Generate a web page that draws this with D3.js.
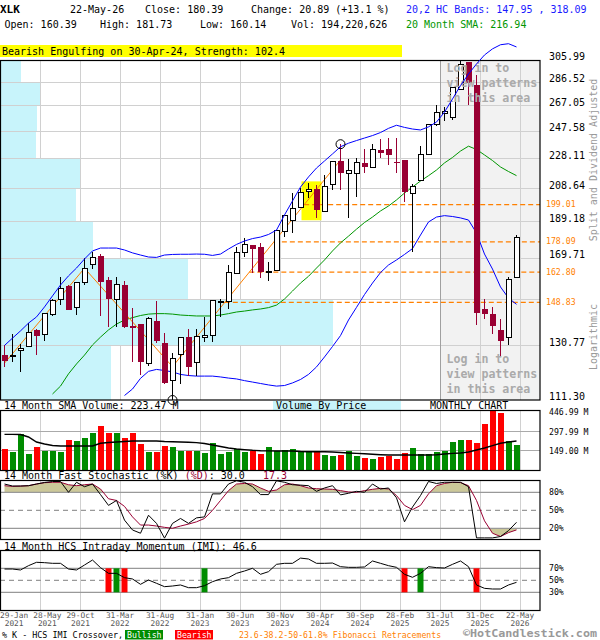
<!DOCTYPE html>
<html lang="en">
<head>
<meta charset="UTF-8">
<title>XLK Monthly Chart</title>
<style>
  body { margin: 0; background: #fff; }
  svg { display: block; font-family: "DejaVu Sans Mono", monospace; }
  .pre { white-space: pre; }
</style>
</head>
<body>
<div id="chart"></div>
<script src="https://d3js.org/d3.v7.min.js"></script>
<script>
// ---- data ----
var symbol = "XLK";
var lastDate = "22-May-26";

var months = [
  "Jan-21","Feb-21","Mar-21","Apr-21","May-21","Jun-21","Jul-21","Aug-21","Sep-21","Oct-21","Nov-21","Dec-21",
  "Jan-22","Feb-22","Mar-22","Apr-22","May-22","Jun-22","Jul-22","Aug-22","Sep-22","Oct-22","Nov-22","Dec-22",
  "Jan-23","Feb-23","Mar-23","Apr-23","May-23","Jun-23","Jul-23","Aug-23","Sep-23","Oct-23","Nov-23","Dec-23",
  "Jan-24","Feb-24","Mar-24","Apr-24","May-24","Jun-24","Jul-24","Aug-24","Sep-24","Oct-24","Nov-24","Dec-24",
  "Jan-25","Feb-25","Mar-25","Apr-25","May-25","Jun-25","Jul-25","Aug-25","Sep-25","Oct-25","Nov-25","Dec-25",
  "Jan-26","Feb-26","Mar-26","Apr-26","May-26"
];

var openP = [127.3,126.7,129.2,130.4,137.0,135.3,143.7,149.9,156.3,146.6,157.8,166.7,
  170.8,159.0,150.0,156.7,138.7,139.5,124.2,140.9,131.8,117.9,127.3,134.1,
  124.5,134.1,135.0,149.0,149.0,162.2,172.7,176.5,175.6,162.6,163.5,183.6,
  189.7,197.6,206.8,208.3,194.9,211.3,226.8,218.6,218.6,225.1,222.4,234.1,
  234.8,226.1,227.3,205.8,214.1,230.7,252.9,260.6,257.9,280.4,304.4,284.0,
  145.9,143.7,137.1,134.1,160.39];
var highP = [131.1,135.3,131.5,139.8,137.5,144.2,150.4,160.3,156.6,158.1,169.6,172.9,
  172.0,160.6,160.3,158.7,146.2,139.6,142.4,149.4,136.0,127.9,134.2,137.3,
  137.3,142.6,150.0,150.2,166.3,175.6,180.4,176.7,177.4,167.9,184.6,193.0,
  205.8,208.8,212.0,210.8,217.3,226.2,238.2,227.7,228.4,234.6,238.2,241.7,
  242.4,242.4,227.4,211.6,236.8,253.0,267.6,265.7,282.2,305.4,304.6,292.6,
  150.1,146.6,141.5,160.6,181.73];
var lowP = [122.7,124.7,121.1,130.2,127.3,132.8,142.9,147.6,145.3,143.3,156.7,164.2,
  142.9,138.4,138.2,137.7,124.7,119.9,123.2,131.8,116.8,111.3,116.7,119.5,
  119.5,132.4,132.4,142.3,145.8,162.0,170.5,162.2,159.8,158.7,163.4,180.9,
  182.7,197.0,202.8,191.1,194.8,207.9,207.9,191.1,203.8,218.5,222.3,228.4,
  223.7,218.5,200.6,172.9,214.0,230.6,251.6,255.2,256.0,279.9,267.9,139.2,
  141.5,135.4,126.6,131.1,160.14];
var closeP = [125.1,127.1,129.6,136.1,134.6,144.0,149.7,155.2,145.5,157.9,164.7,170.1,
  158.2,150.3,156.7,138.4,137.7,124.7,141.9,132.8,116.9,126.0,134.1,122.9,
  134.6,135.0,149.85,149.4,162.7,172.7,176.9,174.2,163.0,163.3,184.5,192.5,
  196.8,206.5,208.3,195.85,210.2,226.1,218.9,220.1,225.8,222.4,234.6,232.3,
  230.7,225.3,206.8,209.8,230.9,252.9,261.8,262.4,282.1,301.5,285.6,144.2,
  143.7,138.8,132.8,159.5,180.39];
// monthly volume, millions of shares
var volumeM = [162.9,142.5,274,125,178,147.7,147.7,142.5,231,223.5,246,284,
  339.5,284,284,246,284,203,142.5,142.5,188,178,150,150,
  150,135,208,127,142.5,160.6,142.5,150,127,178,150,157.6,
  162.9,147.7,147.7,147.7,117.4,110,117.4,147.7,110,94.7,87,102,
  110,87,132.6,170.5,125,125,140,147.7,216,231,231,208,
  352,447,433,226,194.220626];
var volSma14 = [274,274,273,254,216,201,189,186,186,186,186,186,
  206,212,216,220,223.5,223.5,223.5,223.5,220,218,216,214,
  211,205,193,182,170,163,158,153,150,149,148,148,
  148,144,142.5,142.5,142.5,140,136,132.6,130,126.5,122.7,119.7,
  117.4,117.4,117.4,117.4,117.4,117.4,119,125,130,132.6,140,155,
  170.5,189,206,216,223.47];
var bandUpper = [130.9,133.8,136.7,139.9,142.5,146.8,151.7,156.7,161.0,164.8,169.3,173.4,
  174.9,174.9,174.9,173.9,172.4,171.3,170.3,170.1,171.3,171.6,171.7,171.7,
  171.8,171.7,171.1,171.8,174.4,176.8,178.6,179.9,180.7,182.1,184.5,193.0,
  201.2,209.7,216.1,221.9,226.6,231.4,236.4,238.9,240.8,242.6,244.4,246.6,
  249.7,252.0,250.4,249.2,248.5,250.8,254.4,262.1,272.5,283.6,293.5,302.4,
  310.6,316.3,320.2,321.2,318.09];
var sma20 = [null,null,null,null,null,null,113.3,116.0,120.3,123.9,127.2,131.1,
  134.2,137.1,139.5,141.2,142.2,143.1,143.7,143.9,143.9,143.7,143.3,143.1,
  142.9,142.9,142.9,143.3,143.9,144.6,145.0,145.5,145.9,146.5,147.6,150.3,
  153.9,157.6,160.8,164.8,168.8,173.4,177.6,181.2,185.0,188.7,191.8,195.3,
  198.2,201.8,206.0,209.7,213.5,216.9,220.6,225.3,229.0,233.4,236.8,234.5,
  230.7,226.9,222.6,219.6,216.94];
var bandLower = [null,null,null,null,null,null,null,null,null,null,null,null,
  null,null,null,112.8,115.0,118.7,121.2,121.9,121.5,121.0,120.1,119.7,
  119.5,119.5,119.5,119.2,118.8,118.5,117.9,117.4,116.9,116.4,116.0,116.2,
  117.1,118.3,120.1,122.8,126.5,130.5,134.8,141.2,146.6,152.3,157.6,162.6,
  166.3,168.8,171.6,174.6,181.8,189.0,191.8,192.6,192.1,191.3,190.1,182.9,
  171.8,164.3,155.8,150.7,147.95];
var stochK = [93.8,90.5,90.5,91,93.8,96.4,98,98,80,96.7,89.3,93.8,
  76.2,58.2,66.4,33.6,17.2,11.8,41.8,28.2,3.6,28.2,36.4,28.2,
  37.4,39,77.4,77.4,93.8,99.2,96.7,89.3,76.2,76.2,99.2,96.7,
  92.6,92,91,81.6,87.2,91,75.7,78.4,81.6,80,93.8,85.5,
  87.2,70.8,30.8,55.4,74.6,98,94.7,96.7,96.7,96.7,89.3,4,
  4,4,6.3,16.1,30.0];
var stochD = [91,89.8,90.3,91,93.8,96,96.7,96.7,92.6,91,92.6,93.8,
  85.5,69.2,66.4,56.5,39,25.4,25.4,23.8,21.6,20,23.8,27,
  30.8,36.4,50,66.4,82.8,93.8,94.7,93.8,87.2,81.6,83.9,92.6,
  93.8,91,87.2,86,85.5,85,82.8,80.6,80,82.8,85,86.6,
  85.5,74.6,58.2,51.1,58.2,77.4,91,94.7,96.7,96.2,91,66.4,
  32.5,11.8,6.3,12.8,17.3];
var imi = [68.8,68.8,67.2,74.4,80,79.4,78.3,78.3,68.8,67.2,75.5,83.8,
  71.1,61.6,61.6,54.4,52.2,43.3,50.5,45,39.4,40.5,42.2,37.7,
  37.7,41,47.7,52.2,54.4,61.6,65.5,70,60,64.4,76.6,78.3,
  78.3,87,85.5,78.3,78.3,78.8,72.7,71.6,71.6,72.2,82.2,78.3,
  74.4,71.6,60,55,61.6,72.7,71.1,70.5,76.6,82.2,72.7,42.2,
  36.6,35.5,35.5,42.2,46.6];

var priceTicks = [111.30,130.77,150.24,169.71,189.18,208.64,228.11,247.58,267.05,286.52,305.99];
var vbpVolume = [110,332,187,92,75,79,35,36,39,20];   // volume by price, bins between ticks (bottom up)
var volTicks = [149.00,297.99,446.99];
var stochLevels = [80,50,20];
var imiLevels = [70,50,30];

var fibLevels = [199.01,178.09,162.80,148.83];
var zigzagMonths = ["Jan-21","Nov-21","Oct-22","Jul-24"];
var zigzagPrices = [124.2,164.7,122.9,227.3];
var pivotMonths = ["Oct-22","Jul-24"];
var pivotPrices = [111.30,238.2];

var patternName = "Bearish Engulfing";
var patternDate = "30-Apr-24";
var patternStrength = 102.4;
var patternMonths = ["Mar-24","Apr-24"];
var lockedFrom = "Jul-25";

var crossMonths = ["Feb-22","Mar-22","Apr-22","Feb-23","Mar-25","May-25","Dec-25"];
var crossTypes = ["bear","bull","bear","bull","bear","bull","bear"];

var xTickMonths = ["Jan-21","May-21","Oct-21","Mar-22","Aug-22","Jan-23","Jun-23","Nov-23","Apr-24","Sep-24","Feb-25","Jul-25","Dec-25","May-26"];
var xTickDays = ["29-Jan","28-May","29-Oct","31-Mar","31-Aug","31-Jan","30-Jun","30-Nov","30-Apr","30-Sep","28-Feb","31-Jul","31-Dec","22-May"];
var xTickYears = ["2021","2021","2021","2022","2022","2023","2023","2023","2024","2024","2025","2025","2025","2026"];

// ---- drawing ----
var RED = "#990033", UPRED = "#ff0000", GREEN = "#008c00", ORANGE = "#ff8000", CYAN = "#c8f4fb";
var rows = months.map(function (m, i) {
  return { m: m, o: openP[i], h: highP[i], l: lowP[i], c: closeP[i], v: volumeM[i], vs: volSma14[i],
    up: bandUpper[i], sma: sma20[i], lo: bandLower[i], k: stochK[i], d: stochD[i], imi: imi[i] };
});
var last = rows[rows.length - 1], prev = rows[rows.length - 2];
var f2 = d3.format(".2f"), f1 = d3.format(".1f");

var svg = d3.select("#chart").append("svg").attr("width", 600).attr("height", 640);
var defs = svg.append("defs");

function txt(g, s, px, py, size, color, weight) {
  return g.append("text").attr("x", px).attr("y", py).attr("font-size", size)
    .attr("fill", color || "#000").attr("font-weight", weight || "normal").text(s);
}

var x = d3.scalePoint().domain(months).range([4.5, 516.5]);
function gridX(m) { return x(m) + 3.5; }
var right = 540;

// header
var hdr = svg.append("g");
txt(hdr, symbol, 0, 13, 11, "#000", "bold");
txt(hdr, lastDate, 70, 13, 10);
txt(hdr, "Close: " + f2(last.c), 145, 13, 10);
var chg = last.c - prev.c;
txt(hdr, "Change: " + f2(chg) + " (+" + f1(chg / prev.c * 100) + " %)", 251, 13, 10);
txt(hdr, "20,2 HC Bands: " + f2(last.lo) + " , " + f2(last.up), 406, 13, 10, "#1a1aff");
txt(hdr, "Open: " + f2(last.o), 4.5, 28, 10);
txt(hdr, "High: " + f2(last.h), 100, 28, 10);
txt(hdr, "Low: " + f2(last.l), 200, 28, 10);
txt(hdr, "Vol: " + d3.format(",")(Math.round(last.v * 1e6)), 291, 28, 10);
txt(hdr, "20 Month SMA: " + f2(last.sma), 406, 28, 10, "#009600");

hdr.append("rect").attr("x", 0).attr("y", 45).attr("width", 402).attr("height", 12).attr("fill", "#ffff00");
txt(hdr, patternName + " on " + patternDate + ", Strength: " + patternStrength, 2, 55, 10);

// ---- main price panel ----
var y = d3.scaleLog().domain([priceTicks[0], priceTicks[priceTicks.length - 1]]).range([400, 60]);
var main = svg.append("g");
defs.append("clipPath").attr("id", "clipMain").append("rect")
  .attr("x", 0).attr("y", 0).attr("width", right).attr("height", 400);

main.append("rect").attr("x", gridX(lockedFrom)).attr("y", 60)
  .attr("width", right - gridX(lockedFrom)).attr("height", 340).attr("fill", "#f2f2f2");

main.selectAll("line.vg").data(xTickMonths.slice(1)).enter().append("line")
  .attr("x1", gridX).attr("x2", gridX).attr("y1", 60).attr("y2", 400)
  .attr("stroke", "#d0d0d0").attr("shape-rendering", "crispEdges");

var vbpW = d3.scaleLinear().domain([0, d3.max(vbpVolume)]).range([0, 332]);
main.selectAll("rect.vbp").data(vbpVolume).enter().append("rect")
  .attr("x", 1)
  .attr("y", function (d, i) { return y(priceTicks[i + 1]); })
  .attr("width", function (d) { return vbpW(d); })
  .attr("height", function (d, i) { return y(priceTicks[i]) - y(priceTicks[i + 1]); })
  .attr("fill", CYAN).attr("shape-rendering", "crispEdges");

main.selectAll("line.hg").data(priceTicks.slice(1, -1)).enter().append("line")
  .attr("x1", 0).attr("x2", right).attr("y1", y).attr("y2", y)
  .attr("stroke", "#d0d0d0").attr("shape-rendering", "crispEdges");

main.append("line").attr("x1", gridX(lockedFrom)).attr("x2", gridX(lockedFrom))
  .attr("y1", 60).attr("y2", 400).attr("stroke", "#a0a0a0").attr("shape-rendering", "crispEdges");

// pattern highlight
var patRows = rows.filter(function (d) { return patternMonths.indexOf(d.m) >= 0; });
main.append("rect")
  .attr("x", x(patternMonths[0]) - 7).attr("y", y(d3.max(patRows, function (d) { return d.h; })) - 2)
  .attr("width", x(patternMonths[patternMonths.length - 1]) - x(patternMonths[0]) + 12)
  .attr("height", y(d3.min(patRows, function (d) { return d.l; })) - y(d3.max(patRows, function (d) { return d.h; })) + 4)
  .attr("fill", "#ffff00");

// zigzag + fibonacci retracements
var zz = zigzagMonths.map(function (m, k) { return [x(m), y(zigzagPrices[k])]; });
var za = zz[zz.length - 2], zb = zz[zz.length - 1];
fibLevels.forEach(function (lv) {
  var yl = y(lv);
  var xs = za[0] + (yl - za[1]) / (zb[1] - za[1]) * (zb[0] - za[0]);
  main.append("line").attr("x1", xs).attr("x2", right).attr("y1", yl).attr("y2", yl)
    .attr("stroke", ORANGE).attr("stroke-width", 1.3).attr("stroke-dasharray", "5,3");
  txt(svg, f2(lv), 546, yl + 2.5, 8.2, ORANGE);
});

var lines = main.append("g").attr("clip-path", "url(#clipMain)");
function priceLine(key) {
  return d3.line().defined(function (d) { return d[key] != null; })
    .x(function (d) { return x(d.m); }).y(function (d) { return y(d[key]); });
}
svg.append("path").datum(rows).attr("d", priceLine("up")).attr("fill", "none").attr("stroke", "#0000ff");
lines.append("path").datum(rows).attr("d", priceLine("lo")).attr("fill", "none").attr("stroke", "#0000ff");
lines.append("path").datum(rows).attr("d", priceLine("sma")).attr("fill", "none").attr("stroke", "#009600");
main.append("path").datum(zz).attr("d", d3.line()).attr("fill", "none").attr("stroke", ORANGE);

// candles
var candles = main.selectAll("g.candle").data(rows).enter().append("g");
candles.append("line")
  .attr("x1", function (d) { return x(d.m); }).attr("x2", function (d) { return x(d.m); })
  .attr("y1", function (d) { return y(d.h); }).attr("y2", function (d) { return y(d.l); })
  .attr("stroke", function (d) { return d.c >= d.o ? "#000" : RED; })
  .attr("shape-rendering", "crispEdges");
candles.append("rect")
  .attr("x", function (d) { return d.c >= d.o ? x(d.m) - 2.5 : x(d.m) - 3; })
  .attr("width", function (d) { return d.c >= d.o ? 5 : 6; })
  .attr("y", function (d) { return y(Math.max(d.o, d.c)); })
  .attr("height", function (d) { return Math.max(y(Math.min(d.o, d.c)) - y(Math.max(d.o, d.c)), 1.2); })
  .attr("fill", function (d) { return d.c >= d.o ? "#fff" : RED; })
  .attr("stroke", function (d) { return d.c >= d.o ? "#000" : "none"; })
  .attr("shape-rendering", "crispEdges");

pivotMonths.forEach(function (m, k) {
  svg.append("circle").attr("cx", x(m)).attr("cy", y(pivotPrices[k])).attr("r", 4.5)
    .attr("fill", "none").attr("stroke", "#000");
});

// locked area text
var loginLines = ["Log in to", "view patterns", "in this area"];
[71.7, 363.3].forEach(function (top) {
  loginLines.forEach(function (s, k) {
    txt(main, s, gridX(lockedFrom) + 6.5, top + k * 15, 11.6, "#aaaaaa", "bold");
  });
});

main.append("rect").attr("x", 0.5).attr("y", 60.5).attr("width", right - 0.5).attr("height", 339.5)
  .attr("fill", "none").attr("stroke", "#000").attr("stroke-width", 1.2);

// price axis labels
priceTicks.forEach(function (t) {
  var near = fibLevels.some(function (f) { return Math.abs(y(f) - y(t)) < 8; });
  if (!near) txt(svg, f2(t), 549, y(t), 10);
});
svg.append("text").attr("transform", "translate(597,160) rotate(-90)").attr("text-anchor", "middle")
  .attr("font-size", 10).attr("fill", "#999").text("Split and Dividend Adjusted");
svg.append("text").attr("transform", "translate(597,337) rotate(-90)").attr("text-anchor", "middle")
  .attr("font-size", 10).attr("fill", "#999").text("Logarithmic");

// ---- volume panel ----
var yV = d3.scaleLinear().domain([0, volTicks[volTicks.length - 1]]).range([470.5, 411.5]);
var vol = svg.append("g");
txt(vol, "14 Month SMA Volume: " + f2(last.vs) + " M", 4, 409, 10);
vol.append("rect").attr("x", 273).attr("y", 401).attr("width", 128).attr("height", 9.5).attr("fill", CYAN);
txt(vol, "Volume By Price", 276, 409, 10);
txt(vol, "MONTHLY CHART", 430, 408.5, 10);

function vGrid(g, top, bot) {
  g.selectAll("line.vg").data(xTickMonths.slice(1)).enter().append("line")
    .attr("x1", gridX).attr("x2", gridX).attr("y1", top).attr("y2", bot)
    .attr("stroke", "#d0d0d0").attr("shape-rendering", "crispEdges");
}
vGrid(vol, 410, 470.5);
vol.selectAll("line.hg").data(volTicks.slice(0, -1)).enter().append("line")
  .attr("x1", 0).attr("x2", right).attr("y1", yV).attr("y2", yV)
  .attr("stroke", "#aaa").attr("shape-rendering", "crispEdges");
vol.selectAll("rect.bar").data(rows).enter().append("rect")
  .attr("x", function (d) { return x(d.m) - 3; }).attr("width", 6)
  .attr("y", function (d) { return yV(d.v); })
  .attr("height", function (d) { return yV(0) - yV(d.v); })
  .attr("fill", function (d) { return d.c >= d.o ? GREEN : UPRED; })
  .attr("shape-rendering", "crispEdges");
vol.append("path").datum(rows)
  .attr("d", d3.line().x(function (d) { return x(d.m); }).y(function (d) { return yV(d.vs); }))
  .attr("fill", "none").attr("stroke", "#000").attr("stroke-width", 1.4);
vol.append("rect").attr("x", 0.5).attr("y", 410.5).attr("width", right - 0.5).attr("height", 60)
  .attr("fill", "none").attr("stroke", "#000").attr("stroke-width", 1.2);
volTicks.forEach(function (t) { txt(vol, f2(t) + " M", 549, yV(t) + 3.5, 8.2); });

// ---- stochastic panel ----
var yS = d3.scaleLinear().domain([0, 100]).range([540.3, 480.3]);
var st = svg.append("g");
var stLabel = st.append("text").attr("class", "pre").attr("x", 4).attr("y", 479).attr("font-size", 10);
stLabel.append("tspan").text("14 Month Fast Stochastic (%K) ");
stLabel.append("tspan").attr("fill", RED).text("(%D)");
stLabel.append("tspan").text(": " + f1(last.k) + "   ");
stLabel.append("tspan").attr("fill", RED).text(f1(last.d));
vGrid(st, 480, 540);
defs.append("clipPath").attr("id", "clipHi").append("rect").attr("x", 0).attr("y", 470).attr("width", right).attr("height", yS(80) - 470);
defs.append("clipPath").attr("id", "clipLo").append("rect").attr("x", 0).attr("y", yS(20)).attr("width", right).attr("height", 550 - yS(20));
st.append("path").datum(rows).attr("clip-path", "url(#clipHi)")
  .attr("d", d3.area().x(function (d) { return x(d.m); }).y0(yS(80)).y1(function (d) { return yS(d.d); }))
  .attr("fill", "#ccc899");
st.append("path").datum(rows).attr("clip-path", "url(#clipLo)")
  .attr("d", d3.area().x(function (d) { return x(d.m); }).y0(yS(20)).y1(function (d) { return yS(d.d); }))
  .attr("fill", "#ccc899");
stochLevels.forEach(function (lv) {
  st.append("line").attr("x1", 0).attr("x2", right).attr("y1", yS(lv)).attr("y2", yS(lv))
    .attr("stroke", "#999").attr("stroke-width", 1.3)
    .attr("stroke-dasharray", lv === 50 ? "5,4" : null);
  txt(st, lv + "%", 549, yS(lv) + 2.5, 8.2);
});
st.append("path").datum(rows)
  .attr("d", d3.line().x(function (d) { return x(d.m); }).y(function (d) { return yS(d.d); }))
  .attr("fill", "none").attr("stroke", RED);
st.append("path").datum(rows)
  .attr("d", d3.line().x(function (d) { return x(d.m); }).y(function (d) { return yS(d.k); }))
  .attr("fill", "none").attr("stroke", "#000");
st.append("rect").attr("x", 0.5).attr("y", 480.5).attr("width", right - 0.5).attr("height", 59)
  .attr("fill", "none").attr("stroke", "#000").attr("stroke-width", 1.2);

// ---- IMI panel ----
var yI = d3.scaleLinear().domain([0, 100]).range([610.3, 550.3]);
var im = svg.append("g");
txt(im, "14 Month HCS Intraday Momentum (IMI): " + f1(last.imi), 4, 549.5, 10);
vGrid(im, 550, 610);
imiLevels.forEach(function (lv) {
  im.append("line").attr("x1", 0).attr("x2", right).attr("y1", yI(lv)).attr("y2", yI(lv))
    .attr("stroke", "#999").attr("stroke-width", 1.3)
    .attr("stroke-dasharray", lv === 50 ? "5,4" : null);
  txt(im, lv + "%", 549, yI(lv) + 2.5, 8.2);
});
im.selectAll("rect.cross").data(crossMonths).enter().append("rect")
  .attr("x", function (m) { return x(m) - 3; }).attr("width", 6)
  .attr("y", yI(imiLevels[0])).attr("height", yI(imiLevels[2]) - yI(imiLevels[0]))
  .attr("fill", function (m, k) { return crossTypes[k] === "bull" ? GREEN : UPRED; });
im.append("path").datum(rows)
  .attr("d", d3.line().x(function (d) { return x(d.m); }).y(function (d) { return yI(d.imi); }))
  .attr("fill", "none").attr("stroke", "#000");
im.append("rect").attr("x", 0.5).attr("y", 550.5).attr("width", right - 0.5).attr("height", 60)
  .attr("fill", "none").attr("stroke", "#000").attr("stroke-width", 1.2);

// ---- x axis labels (date over year, one text each) ----
var charW = 4.7, prevEnd = -Infinity;
xTickMonths.forEach(function (m, k) {
  var w = Math.max(xTickDays[k].length, xTickYears[k].length) * charW;
  var left = Math.max(gridX(m) - w / 2, prevEnd + 5, 0);
  var cx = left + w / 2;
  var t = svg.append("text").attr("font-size", 7.8).attr("fill", "#555").attr("text-anchor", "middle");
  t.append("tspan").attr("x", cx).attr("y", 618).text(xTickDays[k]);
  t.append("tspan").attr("x", cx).attr("y", 626).text(xTickYears[k]);
  prevEnd = left + w;
});

// ---- legend ----
var lg = svg.append("g");
txt(lg, "% K - HCS IMI Crossover,", 2, 637.5, 8.4);
lg.append("rect").attr("x", 125).attr("y", 630).attr("width", 38).attr("height", 9.5).attr("fill", GREEN);
txt(lg, "Bullish", 127, 637.8, 8.2, "#fff");
lg.append("rect").attr("x", 175).attr("y", 630).attr("width", 38).attr("height", 9.5).attr("fill", UPRED);
txt(lg, "Bearish", 177, 637.8, 8.2, "#fff");
txt(lg, "23.6-38.2-50-61.8% Fibonacci Retracements", 239, 637.5, 8.2, ORANGE);
txt(lg, "\u00a9HotCandlestick.com", 463, 637.4, 10, "#999", "bold")
  .attr("textLength", 134).attr("lengthAdjust", "spacingAndGlyphs");
</script>
</body>
</html>
